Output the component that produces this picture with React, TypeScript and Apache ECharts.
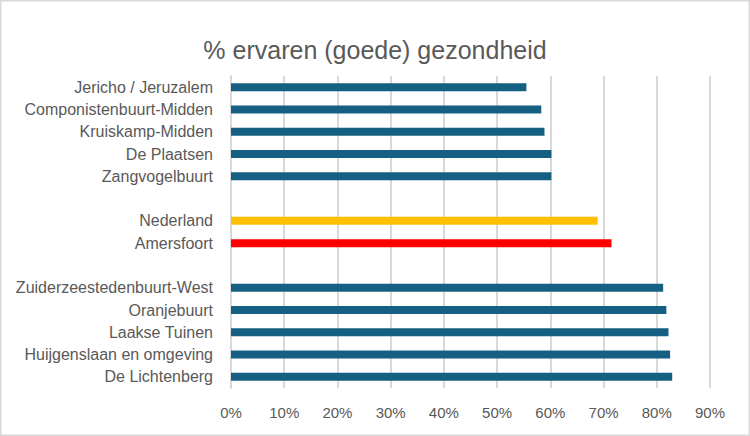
import React, { useEffect, useRef } from "react";
import * as echarts from "echarts";

const categories: string[] = [
  "Jericho / Jeruzalem",
  "Componistenbuurt-Midden",
  "Kruiskamp-Midden",
  "De Plaatsen",
  "Zangvogelbuurt",
  "",
  "Nederland",
  "Amersfoort",
  " ",
  "Zuiderzeestedenbuurt-West",
  "Oranjebuurt",
  "Laakse Tuinen",
  "Huijgenslaan en omgeving",
  "De Lichtenberg",
];

const values: (number | null)[] = [
  55.5, 58.3, 58.9, 60.2, 60.2, null, 68.9, 71.5, null, 81.2, 81.8, 82.2, 82.5, 82.9,
];

const barColors: string[] = [
  "#156082", "#156082", "#156082", "#156082", "#156082", "#156082",
  "#FFC000", "#FF0000", "#156082",
  "#156082", "#156082", "#156082", "#156082", "#156082",
];

const xTicks = { min: 0, max: 90, interval: 10 };

const titleText = "% ervaren (goede) gezondheid";

export default function App() {
  const ref = useRef<HTMLDivElement>(null);
  useEffect(() => {
    if (!ref.current) return;
    const chart = echarts.init(ref.current, null, { renderer: "svg" });
    chart.setOption({
      animation: false,
      backgroundColor: "#ffffff",
      title: {
        text: titleText,
        left: "center",
        top: 32,
        textStyle: {
          fontFamily: "'Liberation Sans', Arial, sans-serif",
          fontSize: 25,
          fontWeight: "normal",
          color: "#595959",
        },
      },
      graphic: [
        {
          type: "rect",
          shape: { x: 0.75, y: 0.75, width: 748.5, height: 434.5 },
          style: { fill: "none", stroke: "#d9d9d9", lineWidth: 1.5 },
          silent: true,
        },
      ],
      grid: { left: 231, right: 40, top: 76, bottom: 48, containLabel: false },
      xAxis: {
        type: "value",
        min: xTicks.min,
        max: xTicks.max,
        interval: xTicks.interval,
        axisLine: { show: false },
        axisTick: { show: false },
        splitLine: { show: true, lineStyle: { color: "#d9d9d9", width: 2 } },
        axisLabel: {
          formatter: "{value}%",
          color: "#595959",
          fontSize: 15,
          margin: 17,
          fontFamily: "'Liberation Sans', Arial, sans-serif",
        },
      },
      yAxis: {
        type: "category",
        data: categories,
        inverse: true,
        axisLine: { show: true, lineStyle: { color: "#d9d9d9", width: 2 } },
        axisTick: { show: false },
        axisLabel: {
          color: "#595959",
          fontSize: 16,
          margin: 18,
          fontFamily: "'Liberation Sans', Arial, sans-serif",
        },
      },
      series: [
        {
          type: "bar",
          barWidth: 8,
          data: values.map((v, i) => ({
            value: v,
            itemStyle: { color: barColors[i] },
          })),
        },
      ],
    });
    return () => chart.dispose();
  }, []);
  return (
    <div
      ref={ref}
      style={{ position: "absolute", left: 0, top: 0, width: 750, height: 436 }}
    />
  );
}
